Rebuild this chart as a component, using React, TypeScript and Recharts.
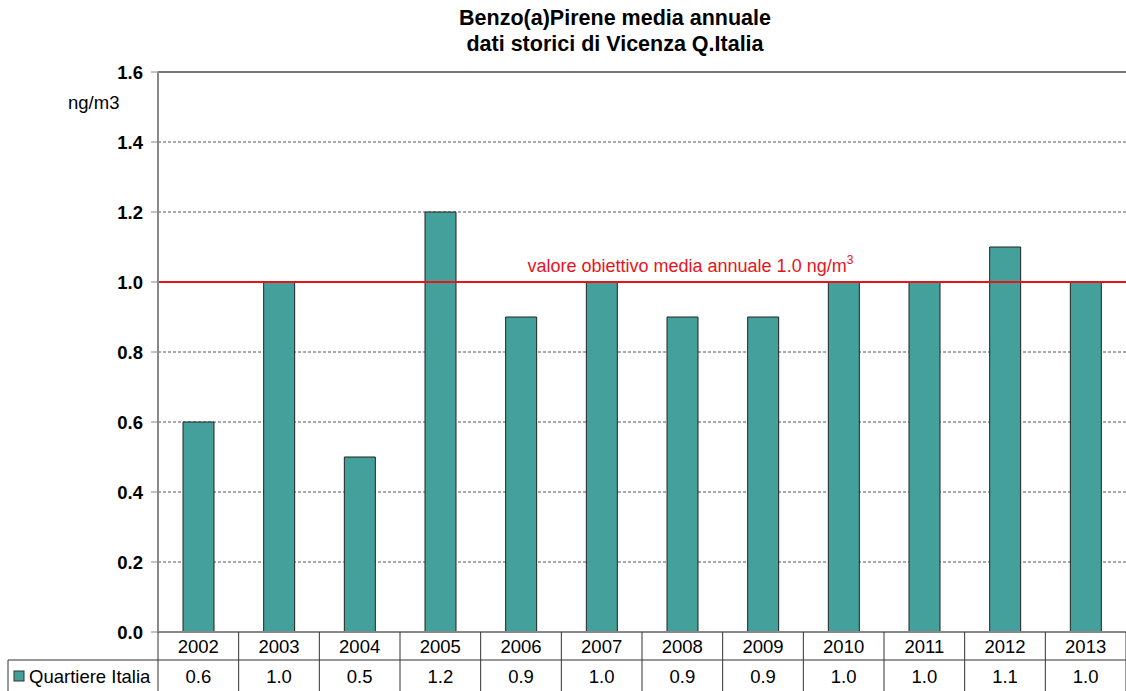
import React from 'react';
import { BarChart, Bar, XAxis, YAxis, CartesianGrid, ReferenceLine } from 'recharts';

const years = ['2002', '2003', '2004', '2005', '2006', '2007', '2008', '2009', '2010', '2011', '2012', '2013'];
const quartiereItalia = [0.6, 1.0, 0.5, 1.2, 0.9, 1.0, 0.9, 0.9, 1.0, 1.0, 1.1, 1.0];
const yTicks = [0, 0.2, 0.4, 0.6, 0.8, 1.0, 1.2, 1.4, 1.6];
const dashedGrid = [0.2, 0.4, 0.6, 0.8, 1.0, 1.2, 1.4];
const targetValue = 1.0;

const data = years.map((y, i) => ({ year: y, value: quartiereItalia[i] }));

const W = 1126;
const H = 691;
const LEFT = 158;
const TOP = 72;
const BOTTOM_AXIS = 59;
const PLOT_BOTTOM = H - BOTTOM_AXIS;
const BAND = (W - LEFT) / years.length;
const FONT = '"Liberation Sans", Arial, sans-serif';
const TEAL = '#44A09B';

function TableTick(props: any) {
  const { x, payload, index } = props;
  const left = x - BAND / 2;
  const right = x + BAND / 2;
  return (
    <g>
      {index === 0 && (
        <g>
          <line x1={8} y1={660} x2={W} y2={660} stroke="#333" strokeWidth={1} />
          <line x1={8} y1={660} x2={8} y2={H} stroke="#333" strokeWidth={1} />
          <rect x={14} y={671} width={10} height={10} fill={TEAL} stroke="#333" strokeWidth={1} />
          <text x={29} y={683} fontSize={18.5} fontFamily={FONT} fill="#000">Quartiere Italia</text>
        </g>
      )}
      <line x1={left} y1={PLOT_BOTTOM} x2={left} y2={H} stroke="#333" strokeWidth={1} />
      {index === years.length - 1 && (
        <line x1={right} y1={PLOT_BOTTOM} x2={right} y2={H} stroke="#333" strokeWidth={1} />
      )}
      <text x={x} y={653} textAnchor="middle" fontSize={18.5} fontFamily={FONT} fill="#000">
        {payload.value}
      </text>
      <text x={x} y={683} textAnchor="middle" fontSize={18.5} fontFamily={FONT} fill="#000">
        {quartiereItalia[index].toFixed(1)}
      </text>
    </g>
  );
}

function TargetLabel(props: any) {
  const { viewBox } = props;
  const cx = viewBox.x + viewBox.width * 0.55;
  return (
    <text x={cx} y={viewBox.y - 10} textAnchor="middle" fontSize={18} fontFamily={FONT} fill="#E8141C">
      valore obiettivo media annuale 1.0 ng/m
      <tspan dy={-8} fontSize={12}>3</tspan>
    </text>
  );
}

export default function App() {
  return (
    <div style={{ position: 'absolute', left: 0, top: 0, width: W, height: H, background: '#fff', fontFamily: FONT }}>
      <div style={{ position: 'absolute', left: 0, width: 1230, top: 5, textAlign: 'center', fontSize: 21.5, fontWeight: 'bold', lineHeight: '26px', color: '#000' }}>
        Benzo(a)Pirene media annuale
        <br />
        dati storici di Vicenza Q.Italia
      </div>
      <div style={{ position: 'absolute', left: 68, top: 92, fontSize: 18.5, color: '#000' }}>ng/m3</div>
      <div style={{ position: 'absolute', left: 0, top: 0 }}>
        <BarChart width={W} height={H} data={data} margin={{ top: TOP, right: 0, left: 0, bottom: 0 }}>
          <CartesianGrid horizontal vertical={false} horizontalValues={dashedGrid} stroke="#555" strokeDasharray="3 2" />
          <ReferenceLine y={1.6} stroke="#777" strokeWidth={2} />
          <XAxis
            dataKey="year"
            height={BOTTOM_AXIS}
            axisLine={{ stroke: '#888', strokeWidth: 2 }}
            tickLine={false}
            interval={0}
            tick={<TableTick />}
          />
          <YAxis
            width={LEFT}
            domain={[0, 1.6]}
            ticks={yTicks}
            interval={0}
            tickFormatter={(v: number) => v.toFixed(1)}
            axisLine={{ stroke: '#888', strokeWidth: 2 }}
            tickLine={{ stroke: '#888' }}
            tickSize={7}
            tickMargin={8}
            tick={{ fontSize: 18.5, fontWeight: 'bold', fill: '#000', fontFamily: FONT }}
          />
          <Bar dataKey="value" fill={TEAL} stroke="#222" strokeWidth={1} barSize={31} isAnimationActive={false} />
          <ReferenceLine y={targetValue} stroke="#E8141C" strokeWidth={2} label={<TargetLabel />} />
        </BarChart>
      </div>
    </div>
  );
}
